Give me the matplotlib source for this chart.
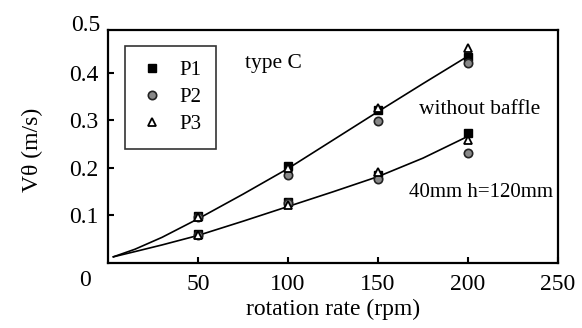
import matplotlib
matplotlib.use("Agg")
import matplotlib.pyplot as plt
from matplotlib.lines import Line2D

plt.rcParams['font.family'] = ['Liberation Serif', 'DejaVu Serif']

rpm = [50, 100, 150, 200]
# upper group
up_p1 = [0.098, 0.203, 0.321, 0.433]
up_p2 = [0.096, 0.185, 0.298, 0.420]
up_p3 = [0.095, 0.199, 0.326, 0.452]
# lower group
lo_p1 = [0.060, 0.128, 0.185, 0.273]
lo_p2 = [0.058, 0.125, 0.176, 0.231]
lo_p3 = [0.057, 0.121, 0.191, 0.259]

curve_x = [3, 15, 30, 50, 75, 100, 125, 150, 175, 200]
curve_up = [0.012, 0.028, 0.053, 0.092, 0.144, 0.198, 0.258, 0.318, 0.377, 0.435]
curve_lo = [0.012, 0.023, 0.037, 0.057, 0.087, 0.118, 0.149, 0.181, 0.220, 0.266]

xticks = [50, 100, 150, 200, 250]
yticks = [0.1, 0.2, 0.3, 0.4]

FS = 17

fig = plt.figure(figsize=(5.82, 3.28), dpi=100)
ax = fig.add_axes([108/582, 1-262.5/328, 450/582, 232.5/328])
ax.set_xlim(0, 250)
ax.set_ylim(0, 0.49)

ax.plot(curve_x, curve_up, color='black', lw=1.2)
ax.plot(curve_x, curve_lo, color='black', lw=1.2)

ms = 6
for d in (up_p1, lo_p1):
    ax.plot(rpm, d, 's', color='black', ms=ms, mec='black')
for d in (up_p2, lo_p2):
    ax.plot(rpm, d, 'o', color='#888888', ms=ms, mec='#222222', mew=1.2)
for d in (up_p3, lo_p3):
    ax.plot(rpm, d, '^', mfc='white', ms=ms, mec='black', mew=1.3)

for s in ax.spines.values():
    s.set_linewidth(1.6)
ax.set_xticks(xticks)
ax.set_xticklabels([str(v) for v in xticks])
ax.set_yticks(yticks)
ax.set_yticklabels([str(v) for v in yticks])
ax.tick_params(direction='in', length=4, width=1.5, labelsize=FS, pad=7)
ax.tick_params(axis='x', pad=8)
# labels beyond limits
ax.text(-4.5, 0.5, '0.5', ha='right', va='center', fontsize=FS, clip_on=False)
ax.text(-13, -0.016, '0', ha='center', va='top', fontsize=FS, clip_on=False)

ax.set_xlabel('rotation rate (rpm)', fontsize=FS, labelpad=3)
fig.text(32/582, 1-150/328, 'V\u03b8 (m/s)', rotation=90, ha='center', va='center', fontsize=FS)

ax.text(76, 0.42, 'type C', fontsize=15.5, ha='left', va='center')
ax.text(173, 0.322, 'without baffle', fontsize=15.5, ha='left', va='center')
ax.text(167, 0.148, '40mm h=120mm', fontsize=15, ha='left', va='center')

handles = [
    Line2D([], [], ls='none', marker='s', color='black', ms=6),
    Line2D([], [], ls='none', marker='o', color='#888888', mec='#222222', mew=1.2, ms=6),
    Line2D([], [], ls='none', marker='^', mfc='white', mec='black', mew=1.3, ms=6),
]
leg = ax.legend(handles, ['P1', 'P2', 'P3'], loc='upper left',
                bbox_to_anchor=(17/450, 1-(46-30)/232.5), fontsize=15,
                frameon=True, fancybox=False, edgecolor='black',
                handletextpad=0.7, borderpad=0.7, labelspacing=0.35,
                handlelength=1.2, borderaxespad=0)
leg.get_frame().set_linewidth(1.2)

fig.savefig('out.png', dpi=100)
